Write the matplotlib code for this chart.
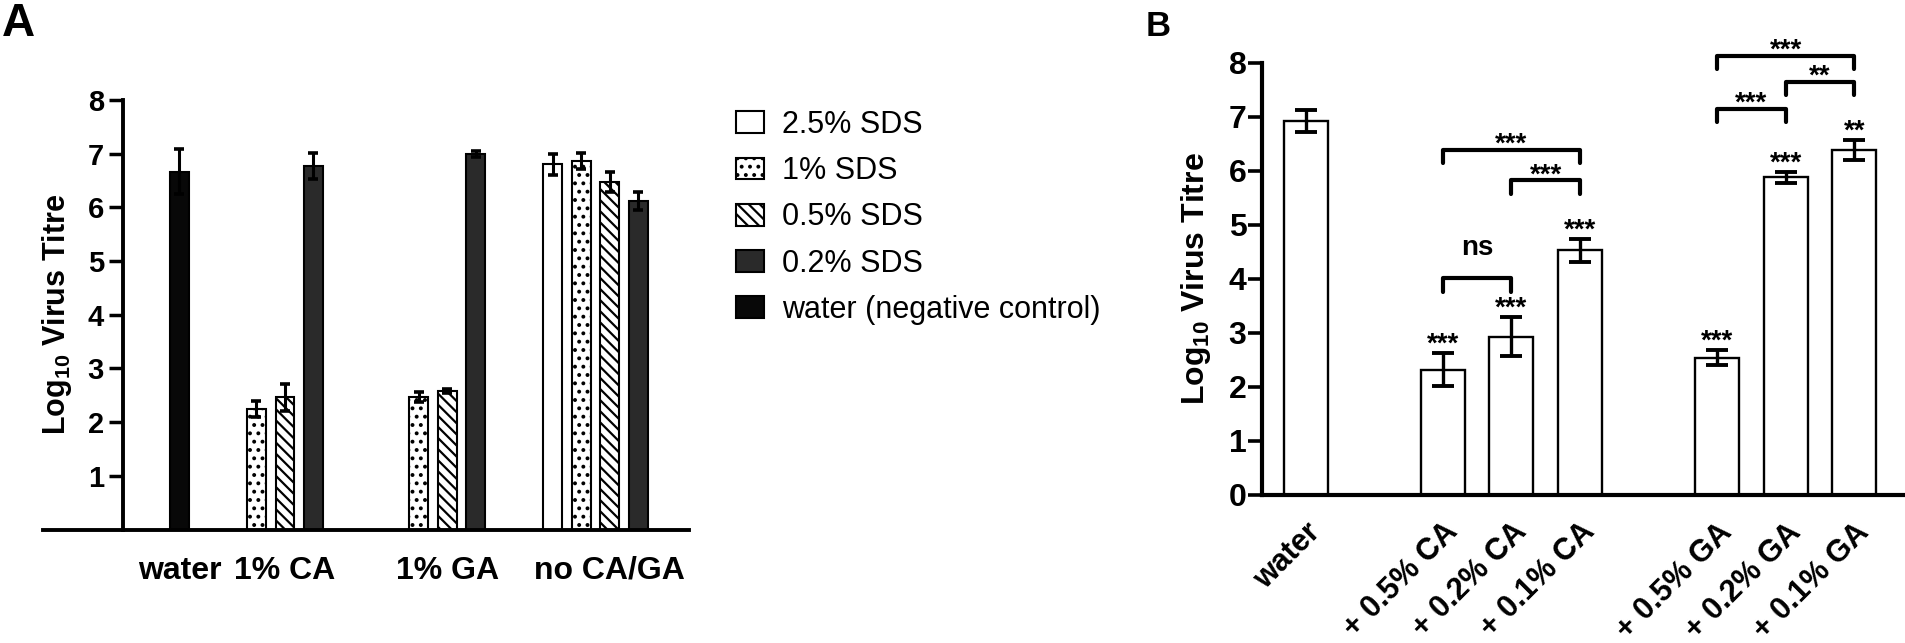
import numpy as np
import matplotlib
matplotlib.use('Agg')
import matplotlib.pyplot as plt
from matplotlib.patches import Patch
from matplotlib.transforms import ScaledTranslation

plt.rcParams['font.family'] = ['Liberation Sans', 'DejaVu Sans']
plt.rcParams['mathtext.fontset'] = 'custom'
plt.rcParams['mathtext.rm'] = 'Liberation Sans:bold'
plt.rcParams['mathtext.bf'] = 'Liberation Sans:bold'
plt.rcParams['mathtext.it'] = 'Liberation Sans:bold'
plt.rcParams['mathtext.default'] = 'bf'
plt.rcParams['hatch.linewidth'] = 1.6

# ---- panel A data ----
groups_a = ['water', '1% CA', '1% GA', 'no CA/GA']
series_a = ['2.5% SDS', '1% SDS', '0.5% SDS', '0.2% SDS', 'water (negative control)']
# rows = groups, columns = series (nan = not measured)
means_a = np.array([
    [np.nan, np.nan, np.nan, np.nan, 6.66],
    [np.nan, 2.25, 2.46, 6.77, np.nan],
    [np.nan, 2.47, 2.58, 6.99, np.nan],
    [6.80, 6.87, 6.47, 6.12, np.nan],
])
errs_a = np.array([
    [np.nan, np.nan, np.nan, np.nan, 0.42],
    [np.nan, 0.15, 0.25, 0.24, np.nan],
    [np.nan, 0.09, 0.04, 0.06, np.nan],
    [0.20, 0.15, 0.18, 0.16, np.nan],
])
# which series take a slot in each group
slots_a = [[4], [0, 1, 2, 3, 4], [0, 1, 2, 3, 4], [0, 1, 2, 3, 4]]
styles_a = [
    dict(facecolor='white', hatch=None),
    dict(facecolor='white', hatch='..'),
    dict(facecolor='white', hatch='\\\\\\'),
    dict(facecolor='#2a2a2a', hatch=None),
    dict(facecolor='#080808', hatch=None),
]

# ---- panel B data ----
labels_b = ['water', '+ 0.5% CA', '+ 0.2% CA', '+ 0.1% CA',
            '+ 0.5% GA', '+ 0.2% GA', '+ 0.1% GA']
group_sizes_b = [1, 3, 3]
means_b = [6.92, 2.32, 2.93, 4.53, 2.54, 5.88, 6.38]
errs_b = [0.21, 0.31, 0.36, 0.21, 0.14, 0.10, 0.18]
stars_b = ['', '***', '***', '***', '***', '***', '**']
# (bar i, bar j, bracket height, label)
brackets_b = [
    (1, 2, 4.01, 'ns'),
    (2, 3, 5.82, '***'),
    (1, 3, 6.39, '***'),
    (4, 5, 7.15, '***'),
    (5, 6, 7.65, '**'),
    (4, 6, 8.13, '***'),
]

W, H = 1905, 643
fig = plt.figure(figsize=(W / 100, H / 100), dpi=100)


def px_axes(left, top, right, bottom):
    return fig.add_axes([left / W, 1 - bottom / H, (right - left) / W, (bottom - top) / H])


# ================= panel A =================
axA = px_axes(43, 100, 689, 529.5)
gap_a = 1.7
pos_a = {}
centers_a = []
x0 = 0.0
for g, slots in enumerate(slots_a):
    xs = x0 + np.arange(len(slots))
    centers_a.append(xs.mean())
    for s, xx in zip(slots, xs):
        pos_a[(g, s)] = xx
    x0 = xs[-1] + gap_a

for s, name in enumerate(series_a):
    xs, ms, es = [], [], []
    for g in range(len(groups_a)):
        if (g, s) in pos_a and not np.isnan(means_a[g, s]):
            xs.append(pos_a[(g, s)])
            ms.append(means_a[g, s])
            es.append(errs_a[g, s])
    axA.bar(xs, ms, width=0.66, edgecolor='black', linewidth=1.5,
            zorder=2, **styles_a[s])
    axA.errorbar(xs, ms, yerr=es, fmt='none', ecolor='black',
                 elinewidth=2.2, capsize=3.3, capthick=2.6, zorder=3)

axA.set_xlim(-4.79, 17.88)
axA.set_ylim(0, 8)
axA.set_yticks(range(1, 9))
axA.set_xticks(centers_a)
axA.set_xticklabels(groups_a, fontweight='bold')
for sp in ['top', 'right']:
    axA.spines[sp].set_visible(False)
axA.spines['left'].set_position(('data', -1.99))
axA.spines['left'].set_linewidth(2.8)
axA.spines['bottom'].set_linewidth(2.8)
axA.tick_params(axis='x', length=0, pad=19, labelsize=23)
axA.tick_params(axis='y', length=10, width=2.5, pad=3.6, labelsize=21)
for lbl in axA.get_yticklabels():
    lbl.set_fontweight('bold')
axA.set_ylabel('Log$_{10}$ Virus Titre', fontsize=22, fontweight='bold', labelpad=10)

handles = [Patch(edgecolor='black', linewidth=1.5, **st) for st in styles_a]
fig.legend(handles, series_a, loc='upper left', bbox_to_anchor=(736 / W, 1 - 110 / H),
           frameon=False, fontsize=22, borderpad=0, borderaxespad=0,
           handlelength=0.92, handleheight=0.72, handletextpad=0.6, labelspacing=0.53)

fig.text(2 / W, 1 - 2 / H, 'A', fontsize=33, fontweight='bold', ha='left', va='top')

# ================= panel B =================
axB = px_axes(1261.7, 62.6, 1903, 495)
pos_b = []
x0 = 0
for n in group_sizes_b:
    pos_b.extend(x0 + np.arange(n))
    x0 += n + 1
pos_b = np.array(pos_b, dtype=float)

axB.bar(pos_b, means_b, width=0.64, facecolor='white', edgecolor='black',
        linewidth=1.7, zorder=2)
axB.errorbar(pos_b, means_b, yerr=errs_b, fmt='none', ecolor='black',
             elinewidth=2.4, capsize=8, capthick=2.8, zorder=3)

for x, m, e, st in zip(pos_b, means_b, errs_b, stars_b):
    if st:
        axB.annotate(st, (x, m + e), xytext=(0, 1), textcoords='offset points',
                     ha='center', va='baseline', fontsize=20, fontweight='bold',
                     annotation_clip=False)

leg = 0.25
for i, j, y, txt in brackets_b:
    xi, xj = pos_b[i], pos_b[j]
    axB.plot([xi, xi, xj, xj], [y - leg, y, y, y - leg], color='black', lw=3,
             solid_capstyle='round', solid_joinstyle='round', clip_on=False, zorder=4)
    off = 16.5 if txt == 'ns' else -1.5
    axB.annotate(txt, ((xi + xj) / 2, y), xytext=(0, off), textcoords='offset points',
                 ha='center', va='baseline', fontsize=20, fontweight='bold',
                 annotation_clip=False)

axB.set_xlim(-0.64, 8.71)
axB.set_ylim(0, 8)
axB.set_yticks(range(0, 9))
axB.set_xticks(pos_b)
axB.set_xticklabels(labels_b, fontweight='bold', rotation=45, ha='right',
                    va='top', rotation_mode='anchor')
shift = ScaledTranslation(9 / 72, 0, fig.dpi_scale_trans)
for lbl in axB.get_xticklabels():
    lbl.set_transform(lbl.get_transform() + shift)
for sp in ['top', 'right']:
    axB.spines[sp].set_visible(False)
axB.spines['left'].set_linewidth(3)
axB.spines['bottom'].set_linewidth(3)
axB.tick_params(axis='x', length=0, pad=16, labelsize=22)
axB.tick_params(axis='y', length=10, width=2.6, pad=1, labelsize=23)
for lbl in axB.get_yticklabels():
    lbl.set_fontweight('bold')
axB.set_ylabel('Log$_{10}$ Virus Titre', fontsize=23, fontweight='bold', labelpad=11)

fig.text(1146 / W, 1 - 10 / H, 'B', fontsize=25, fontweight='bold', ha='left', va='top')

fig.savefig('out.png', dpi=100)
